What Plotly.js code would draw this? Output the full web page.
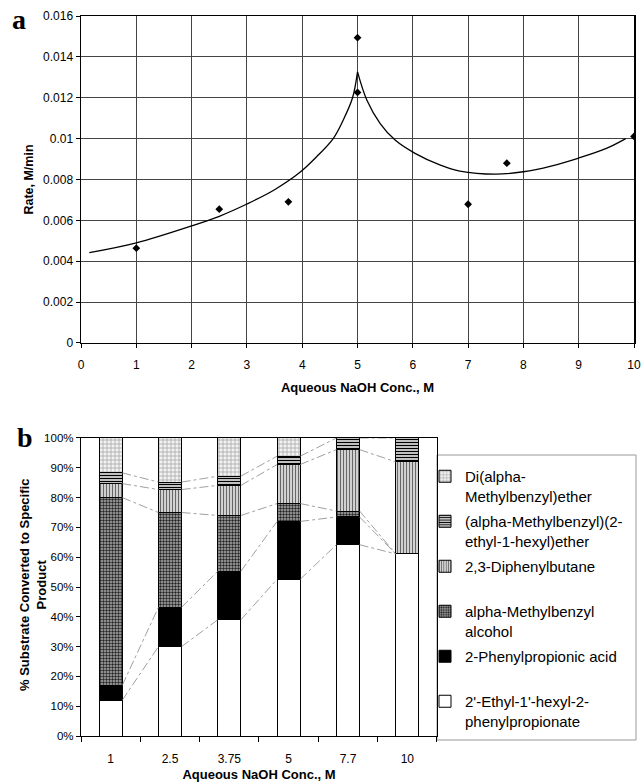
<!DOCTYPE html>
<html>
<head>
<meta charset="utf-8">
<script src="https://cdn.plot.ly/plotly-3.0.1.min.js"></script>
<style>html,body{margin:0;padding:0;background:#fff;}#chart{width:641px;height:782px;}</style>
</head>
<body>
<div id="chart"></div>
<script>
// ---- Panel a: rate vs NaOH concentration ----
const rateConc = [1, 2.5, 3.75, 5, 5, 7, 7.7, 10];
const rateVal  = [0.00464, 0.00655, 0.00691, 0.01494, 0.01226, 0.00679, 0.0088, 0.01011];
// fitted curve (left and right branches meet at the cusp)
const fitLeftConc  = [0.15, 1, 2, 2.5, 3, 3.5, 3.96, 4.26, 4.56, 4.74, 4.91, 5.0];
const fitLeftRate  = [0.00442, 0.0049, 0.00573, 0.0062, 0.0068, 0.0075, 0.00835, 0.00911, 0.0100, 0.0109, 0.0120, 0.01327];
const fitRightConc = [5.0, 5.17, 5.41, 5.68, 6.04, 6.5, 6.85, 7.5, 8, 8.5, 9, 9.5, 9.85];
const fitRightRate = [0.01327, 0.01188, 0.01074, 0.00993, 0.00928, 0.0087, 0.00841, 0.00826, 0.00838, 0.00866, 0.00905, 0.00952, 0.0100];

// ---- Panel b: product distribution ----
const categories = ['1', '2.5', '3.75', '5', '7.7', '10'];
const ester      = [12, 30, 39, 52.6, 64.2, 61.1];
const acid       = [5, 13.2, 16.3, 19.4, 9.3, 0];
const alcohol    = [63, 31.8, 18.7, 6, 2, 0];
const diphenylbutane = [4.7, 7.7, 10.1, 13.1, 20.6, 30.9];
const mixedEther = [3.6, 2.5, 3.1, 2.8, 3.9, 8];
const diEther    = [11.7, 14.8, 12.8, 6.1, 0, 0];

const seriesNames = [
  "2'-Ethyl-1'-hexyl-2-<br>phenylpropionate",
  "2-Phenylpropionic acid<br> ",
  "alpha-Methylbenzyl<br>alcohol",
  "2,3-Diphenylbutane<br> ",
  "(alpha-Methylbenzyl)(2-<br>ethyl-1-hexyl)ether",
  "Di(alpha-<br>Methylbenzyl)ether"
];
const seriesData = [ester, acid, alcohol, diphenylbutane, mixedEther, diEther];
const seriesStyle = [
  {color:'#ffffff'},
  {color:'#000000'},
  {color:'#999999', pattern:{shape:'.', fgcolor:'#222', bgcolor:'#b0b0b0', size:3, solidity:0.5}},
  {color:'#cccccc', pattern:{shape:'|', fgcolor:'#666', bgcolor:'#dedede', size:3, solidity:0.4}},
  {color:'#888888', pattern:{shape:'-', fgcolor:'#000', bgcolor:'#fff', size:3, solidity:0.5}},
  {color:'#e8e8e8', pattern:{shape:'+', fgcolor:'#999', bgcolor:'#f2f2f2', size:4, solidity:0.3}}
];

const font = 'Arial, "Liberation Sans", sans-serif';
const barW = 0.39;
const xIdx = categories.map((c, i) => i);

const traces = [];
[[fitLeftConc, fitLeftRate], [fitRightConc, fitRightRate]].forEach(([xs, ys]) => {
  traces.push({
    x: xs, y: ys, type: 'scatter', mode: 'lines',
    line: {color: '#000', width: 1.3, shape: 'spline', smoothing: 1.0},
    xaxis: 'x', yaxis: 'y', showlegend: false, hoverinfo: 'skip'
  });
});
traces.push({
  x: rateConc, y: rateVal, type: 'scatter', mode: 'markers',
  marker: {symbol: 'diamond', size: 6, color: '#000'}, xaxis: 'x', yaxis: 'y', showlegend: false
});

seriesData.forEach((d, k) => {
  const st = seriesStyle[k];
  const marker = {color: st.color, line: {color: '#000', width: 1}};
  if (st.pattern) marker.pattern = st.pattern;
  traces.push({
    type: 'bar', x: xIdx, y: d, name: seriesNames[k], width: barW,
    marker: marker, xaxis: 'x2', yaxis: 'y2', legendgroup: 'g' + k,
    legendrank: 1000 - k
  });
});

// series lines connecting segment tops between neighbouring bars
const sx = [], sy = [];
const cum = categories.map(() => 0);
for (let k = 0; k < seriesData.length - 1; k++) {
  seriesData[k].forEach((v, i) => { cum[i] += v; });
  for (let i = 0; i < categories.length - 1; i++) {
    sx.push(i + barW / 2, i + 1 - barW / 2, null);
    sy.push(cum[i], cum[i + 1], null);
  }
}
traces.push({
  x: sx, y: sy, type: 'scatter', mode: 'lines', xaxis: 'x2', yaxis: 'y2',
  line: {color: '#888', width: 0.8, dash: 'dashdot'}, showlegend: false, hoverinfo: 'skip'
});

const tf = (s) => ({family: font, size: s, color: '#000'});

const layout = {
  width: 641, height: 782,
  margin: {l: 0, r: 0, t: 0, b: 0},
  paper_bgcolor: '#fff', plot_bgcolor: '#fff',
  font: tf(12),
  showlegend: true,
  barmode: 'stack',
  xaxis: {
    domain: [0.1264, 0.9891], anchor: 'y', range: [0, 10], dtick: 1, tick0: 0,
    showgrid: true, gridcolor: '#444', gridwidth: 1,
    showline: true, linecolor: '#000', linewidth: 1.5, mirror: true,
    ticks: 'outside', ticklen: 4, tickcolor: '#000', zeroline: false,
    ticklabelstandoff: 6, ticklabeloverflow: 'allow',
    tickfont: tf(12),
    title: {text: '<b>Aqueous NaOH Conc., M</b>', font: tf(13), standoff: 12}
  },
  yaxis: {
    domain: [0.5614, 0.9795], anchor: 'x', range: [0, 0.016], dtick: 0.002, tick0: 0,
    showgrid: true, gridcolor: '#444', gridwidth: 1,
    showline: true, linecolor: '#000', linewidth: 1.5, mirror: true,
    ticks: 'outside', ticklen: 4, tickcolor: '#000', zeroline: false,
    tickfont: tf(12),
    title: {text: '<b>Rate, M/min</b>', font: tf(12.5), standoff: 6}
  },
  xaxis2: {
    domain: [0.1264, 0.6817], anchor: 'y2', range: [-0.5, 5.5],
    tickmode: 'array', tickvals: xIdx, ticktext: categories,
    ticks: 'outside', ticklen: 11, tickcolor: 'rgba(0,0,0,0)',
    minor: {ticks: 'outside', tick0: -0.5, dtick: 1, ticklen: 5, tickcolor: '#000', showgrid: false},
    showgrid: false, zeroline: false,
    showline: true, linecolor: '#000', linewidth: 1.2, mirror: true,
    tickfont: tf(12),
    title: {text: '<b>Aqueous NaOH Conc., M</b>', font: tf(13), standoff: 13}
  },
  yaxis2: {
    domain: [0.0588, 0.4399], anchor: 'x2', range: [0, 100], dtick: 10, tick0: 0,
    ticksuffix: '%', showgrid: false, zeroline: false,
    showline: true, linecolor: '#000', linewidth: 1.2, mirror: true,
    ticks: 'outside', ticklen: 4, tickcolor: '#000',
    tickfont: tf(11.5)
  },
  legend: {
    x: 425/641, y: 1 - 460/782, xanchor: 'left', yanchor: 'top',
    traceorder: 'grouped', valign: 'top', tracegroupgap: 3,
    font: tf(15),
    bgcolor: 'rgba(255,255,255,0)', borderwidth: 0,
    itemwidth: 30
  },
  shapes: [
    {type: 'rect', xref: 'paper', yref: 'paper', x0: 437/641, x1: 636/641, y0: 1 - 740/782, y1: 1 - 455/782,
     line: {color: '#999', width: 1}, fillcolor: 'rgba(0,0,0,0)', layer: 'below'}
  ],
  annotations: [
    {text: '<b>a</b>', xref: 'paper', yref: 'paper', x: 10/641, y: 1 - 19/782, xanchor: 'left', yanchor: 'middle',
     showarrow: false, font: {family: '"Liberation Serif", "Times New Roman", serif', size: 28, color: '#000'}},
    {text: '<b>b</b>', xref: 'paper', yref: 'paper', x: 15/641, y: 1 - 437/782, xanchor: 'left', yanchor: 'middle',
     showarrow: false, font: {family: '"Liberation Serif", "Times New Roman", serif', size: 28, color: '#000'}},
    {text: '<b>% Substrate Converted to Specific<br>Product</b>', xref: 'paper', yref: 'paper',
     x: 33/641, y: 1 - 585/782, xanchor: 'center', yanchor: 'middle', textangle: -90,
     showarrow: false, font: tf(13)}
  ]
};

Plotly.newPlot('chart', traces, layout, {displayModeBar: false, staticPlot: true});
</script>
</body>
</html>
